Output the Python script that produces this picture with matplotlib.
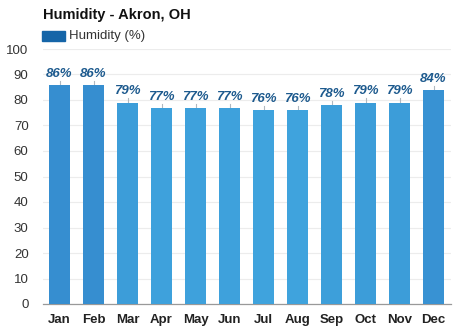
import matplotlib
matplotlib.use("Agg")
import matplotlib.pyplot as plt
import numpy as np

plt.rcParams["font.family"] = ["Liberation Sans", "DejaVu Sans"]

months = ["Jan", "Feb", "Mar", "Apr", "May", "Jun", "Jul", "Aug", "Sep", "Oct", "Nov", "Dec"]
humidity = [86, 86, 79, 77, 77, 77, 76, 76, 78, 79, 79, 84]
yticks = [0, 10, 20, 30, 40, 50, 60, 70, 80, 90, 100]

W, H = 474, 331
fig = plt.figure(figsize=(W / 100, H / 100), dpi=100)
fig.patch.set_facecolor("white")
ax = fig.add_axes([42.5 / W, (H - 304) / H, 408 / W, 255 / H])

x = np.arange(len(months))


def bar_color(v):
    # darker blue for higher humidity
    t = (v - 76) / 10.0
    c0 = np.array([0x3f, 0xa3, 0xdd]) / 255
    c1 = np.array([0x36, 0x8e, 0xd0]) / 255
    return tuple(c0 + (c1 - c0) * t)


colors = [bar_color(v) for v in humidity]
ax.bar(x, humidity, width=0.62, color=colors, zorder=3)

for xi, v in zip(x, humidity):
    ax.plot([xi, xi], [v, v + 1.6], color="#b0b8c0", lw=0.8, zorder=2)
    ax.text(xi, v + 2.0, f"{v}%", ha="center", va="bottom", fontsize=9.5,
            fontweight="bold", fontstyle="italic", color="#1d5a8e", zorder=4)

ax.set_xlim(-0.5, len(months) - 0.5)
ax.set_ylim(0, 100)
ax.set_yticks(yticks)
ax.set_yticklabels([str(t) for t in yticks], fontsize=9.5, color="#333333")
ax.set_xticks(x)
ax.set_xticklabels(months, fontsize=9.5, fontweight="bold", color="#222222")
ax.tick_params(axis="both", length=0)
ax.tick_params(axis="y", pad=10)
ax.tick_params(axis="x", pad=7)
ax.grid(axis="y", color="#ececec", lw=0.8, zorder=0)
for s in ["top", "right", "left"]:
    ax.spines[s].set_visible(False)
ax.spines["bottom"].set_color("#999999")
ax.spines["bottom"].set_linewidth(0.9)

fig.text(43 / W, 1 - 15 / H, "Humidity - Akron, OH", fontsize=10.5, fontweight="bold",
         va="center", ha="left", color="#111111")
fig.patches.append(plt.Rectangle((42 / W, 1 - 41 / H), 23 / W, 10 / H,
                                 transform=fig.transFigure, color="#1565a8"))
fig.text(69 / W, 1 - 35.5 / H, "Humidity (%)", fontsize=9.5, va="center", ha="left",
         color="#333333")

fig.savefig("out.png", dpi=100)
